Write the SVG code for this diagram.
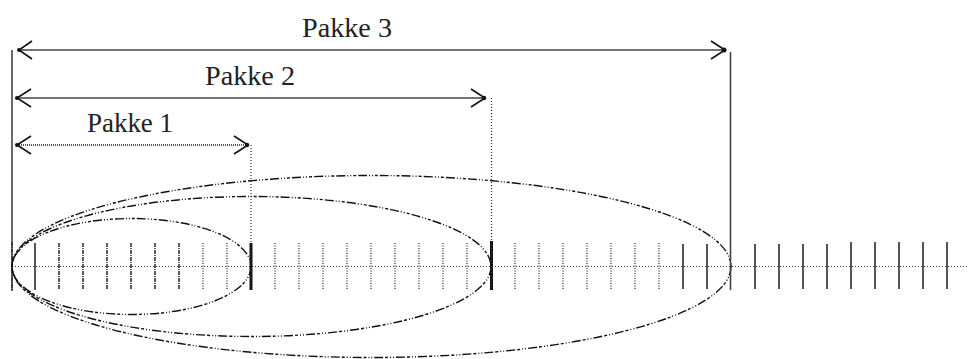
<svg xmlns="http://www.w3.org/2000/svg" width="968" height="359" viewBox="0 0 968 359">
<defs>
<style>
.lbl{font-family:"Liberation Serif","Times New Roman",serif;font-size:27px;fill:#222;}
.solid{stroke:#444;stroke-width:1.6;fill:none;}
.dot{stroke:#333;stroke-width:1.2;stroke-dasharray:1 2;fill:none;}
.ell{stroke:#111;stroke-width:1.4;fill:none;stroke-dasharray:9 2 1 2 1 2 3 2;}
.tickd{stroke:#444;stroke-width:1.4;stroke-dasharray:1 1.5;fill:none;}
.ticks{stroke:#555;stroke-width:2;fill:none;}
.ticku{stroke:#333;stroke-width:1.6;stroke-dasharray:4 1 1 1;fill:none;}
.head{stroke:#111;stroke-width:1.6;fill:none;}
</style>
</defs>
<rect width="968" height="359" fill="#fff"/>
<g id="axis">
<line class="dot" x1="12" y1="266.5" x2="968" y2="266.5"/>
<line class="solid" x1="12" y1="50" x2="12" y2="291"/>
<line class="ticku" x1="12" y1="242" x2="12" y2="291" stroke-width="3"/>
<g class="ticks">
<line x1="35" y1="243" x2="35" y2="290"/>
</g>
<g class="ticku">
<line x1="59" y1="243" x2="59" y2="290"/>
<line x1="83" y1="243" x2="83" y2="290"/>
<line x1="107" y1="243" x2="107" y2="290"/>
<line x1="131" y1="243" x2="131" y2="290"/>
<line x1="155" y1="243" x2="155" y2="290"/>
<line x1="179" y1="243" x2="179" y2="290"/>
</g>
<g class="tickd">
<line x1="203" y1="243" x2="203" y2="290"/>
<line x1="227" y1="243" x2="227" y2="290"/>
<line x1="275" y1="243" x2="275" y2="290"/>
<line x1="299" y1="243" x2="299" y2="290"/>
<line x1="323" y1="243" x2="323" y2="290"/>
<line x1="347" y1="243" x2="347" y2="290"/>
<line x1="371" y1="243" x2="371" y2="290"/>
<line x1="395" y1="243" x2="395" y2="290"/>
<line x1="419" y1="243" x2="419" y2="290"/>
<line x1="443" y1="243" x2="443" y2="290"/>
<line x1="467" y1="243" x2="467" y2="290"/>
<line x1="515" y1="243" x2="515" y2="290"/>
<line x1="539" y1="243" x2="539" y2="290"/>
<line x1="563" y1="243" x2="563" y2="290"/>
<line x1="587" y1="243" x2="587" y2="290"/>
<line x1="611" y1="243" x2="611" y2="290"/>
<line x1="635" y1="243" x2="635" y2="290"/>
<line x1="659" y1="243" x2="659" y2="290"/>
</g>
<g class="ticks">
<line x1="683" y1="244" x2="683" y2="289"/>
<line x1="707" y1="244" x2="707" y2="289"/>
<line x1="755" y1="244" x2="755" y2="289"/>
<line x1="779" y1="244" x2="779" y2="289"/>
<line x1="803" y1="244" x2="803" y2="289"/>
<line x1="827" y1="244" x2="827" y2="289"/>
<line x1="851" y1="242" x2="851" y2="289"/>
<line x1="875" y1="242" x2="875" y2="289"/>
<line x1="899" y1="242" x2="899" y2="289"/>
<line x1="923" y1="242" x2="923" y2="289"/>
<line x1="947" y1="242" x2="947" y2="289"/>
</g>
<line x1="251" y1="243" x2="251" y2="290" stroke="#111" stroke-width="3"/>
<line x1="491.5" y1="241" x2="491.5" y2="290" stroke="#111" stroke-width="3"/>
</g>
<g id="ellipses">
<ellipse class="ell" cx="131.5" cy="266.5" rx="119.5" ry="48"/>
<ellipse class="ell" cx="251.5" cy="266.5" rx="239.5" ry="70"/>
<ellipse class="ell" cx="371.5" cy="266.5" rx="359.5" ry="91"/>
</g>
<g id="pakke3">
<line class="solid" x1="730.5" y1="52" x2="730.5" y2="290"/>
<line class="solid" x1="18" y1="50" x2="725" y2="50"/>
<path class="head" d="M32,41 L19,50 L32,59 M711,41 L725,50 L711,59"/>
<circle cx="19" cy="50" r="2" fill="#111"/>
<circle cx="724" cy="50" r="2.5" fill="#111"/>
<text class="lbl" x="302" y="37" textLength="90" lengthAdjust="spacingAndGlyphs">Pakke 3</text>
</g>
<g id="pakke2">
<line class="dot" x1="491.5" y1="98" x2="491.5" y2="290"/>
<line class="solid" x1="17" y1="98" x2="485" y2="98"/>
<path class="head" d="M31,89 L17,98 L31,107 M471,89 L485,98 L471,107"/>
<circle cx="17" cy="98" r="2" fill="#111"/>
<circle cx="484" cy="98" r="2.2" fill="#111"/>
<text class="lbl" x="205" y="85" textLength="90" lengthAdjust="spacingAndGlyphs">Pakke 2</text>
</g>
<g id="pakke1">
<line class="dot" x1="251" y1="145" x2="251" y2="290"/>
<line x1="17" y1="145" x2="248" y2="145" stroke="#555" stroke-width="2" stroke-dasharray="1 1"/>
<path class="head" d="M31,136 L17,145 L31,154 M234,136 L248,145 L234,154"/>
<circle cx="17" cy="145" r="2" fill="#111"/>
<circle cx="247" cy="145" r="2.2" fill="#111"/>
<text class="lbl" x="87" y="132" textLength="86" lengthAdjust="spacing">Pakke 1</text>
</g>
</svg>
